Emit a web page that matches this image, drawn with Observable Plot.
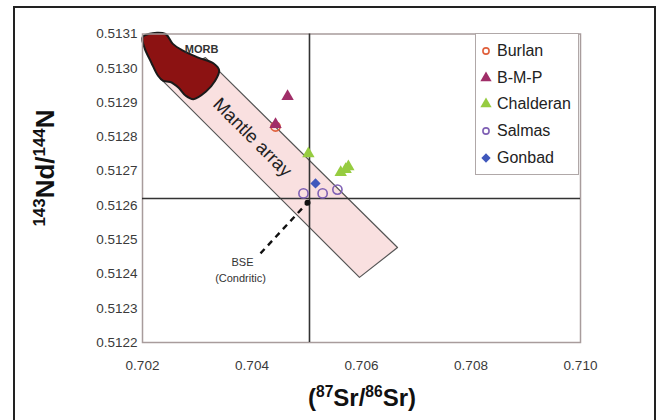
<!DOCTYPE html>
<html><head><meta charset="utf-8">
<script src="https://cdn.jsdelivr.net/npm/d3@7"></script>
<script src="https://cdn.jsdelivr.net/npm/@observablehq/plot@0.6"></script>
<style>
html,body{margin:0;padding:0;background:#fff;overflow:hidden;}
#wrap{position:relative;width:664px;height:420px;font-family:"Liberation Sans",Arial,sans-serif;overflow:hidden;}
#frame{position:absolute;left:13px;top:6px;width:643px;height:440px;border:2px solid #222;box-sizing:border-box;}
#chart{position:absolute;left:0;top:0;}
.title{position:absolute;font-weight:bold;font-size:24px;white-space:nowrap;color:#111;line-height:1;}
.title sup{font-size:0.65em;line-height:0;vertical-align:0.55em;}
#ytitle{left:45px;top:168px;font-size:26px;transform:translate(-50%,-50%) rotate(-90deg);}
#xtitle{left:362px;top:398px;transform:translate(-50%,-50%);}
#legend{position:absolute;left:475px;top:33px;width:104px;height:142px;border:1px solid #b0a8a8;background:#fff;box-sizing:border-box;}
.lrow{position:absolute;left:0;height:20px;display:flex;align-items:center;font-size:16px;color:#222;}
.lrow svg{margin-left:3px;margin-right:4px;}
</style>
</head><body>
<div id="wrap">
  <div id="chart"></div>
  <div id="frame"></div>
  <div class="title" id="ytitle"><sup>143</sup>Nd/<sup>144</sup>N</div>
  <div class="title" id="xtitle">(<sup>87</sup>Sr/<sup>86</sup>Sr)</div>
  <div id="legend"></div>
</div>
<script>
// ---- data ----
const seriesNames = ["Burlan", "B-M-P", "Chalderan", "Salmas", "Gonbad"];
const seriesColors = ["#e0603c", "#a02e68", "#96cc40", "#7f60b4", "#3f58bc"];
const seriesSymbols = ["circle", "triangle", "triangle", "circle", "diamond2"];
const seriesFilled = [false, true, true, false, true];

const pointSeries = ["Burlan", "B-M-P", "B-M-P", "Chalderan", "Chalderan", "Chalderan", "Chalderan", "Salmas", "Salmas", "Salmas", "Gonbad"];
const pointSr = [0.70443, 0.70465, 0.70443, 0.70503, 0.70562, 0.70571, 0.70576, 0.70494, 0.70529, 0.70556, 0.70516];
const pointNd = [0.51283, 0.512918, 0.512836, 0.512751, 0.512696, 0.512705, 0.512713, 0.512635, 0.512635, 0.512646, 0.512664];

const xTicks = [0.702, 0.704, 0.706, 0.708, 0.710];
const yTicks = [0.5122, 0.5123, 0.5124, 0.5125, 0.5126, 0.5127, 0.5128, 0.5129, 0.5130, 0.5131];

// Mantle array band outline (Sr, Nd)
const bandSr = [0.70315, 0.706658, 0.705963, 0.702329];
const bandNd = [0.513031, 0.512477, 0.51239, 0.51297];

// MORB field outline (Sr, Nd)
const morbSr = [0.70200, 0.70211, 0.70242, 0.70255, 0.70273, 0.70302, 0.70330, 0.70340, 0.70332, 0.70316, 0.70293, 0.70279, 0.70266, 0.70251, 0.70238, 0.70228, 0.70216, 0.70204];
const morbNd = [0.51309, 0.51310, 0.51310, 0.513072, 0.513052, 0.513031, 0.513014, 0.512994, 0.512962, 0.512932, 0.512910, 0.512920, 0.512943, 0.512960, 0.512963, 0.512979, 0.513017, 0.513058];

// reference lines (BSE)
const bseSr = 0.70505;
const bseNd = 0.51262;
// BSE arrow: start (label end) -> head
const arrowSr = [0.704155, 0.705014];
const arrowNd = [0.51246, 0.512608];

const labels = [
  {text: "MORB", x: 0.703078, y: 0.513055, size: 11, rotate: 0},
  {text: "Mantle array", x: 0.704009, y: 0.512798, size: 18.5, rotate: 45},
  {text: "BSE", x: 0.703826, y: 0.512433, size: 11, rotate: 0},
  {text: "(Condritic)", x: 0.70379, y: 0.512387, size: 11, rotate: 0}
];

// ---- build ----
const points = pointSeries.map((s, i) => ({s, x: pointSr[i], y: pointNd[i]}));
const band = bandSr.map((x, i) => ({x, y: bandNd[i]}));
const morb = morbSr.map((x, i) => ({x, y: morbNd[i]}));

const dotMarks = seriesNames.map((name, k) => {
  const data = points.filter(p => p.s === name);
  return seriesFilled[k]
    ? Plot.dot(data, {x: "x", y: "y", symbol: () => seriesSymbols[k], fill: seriesColors[k], stroke: "none", r: 4.6})
    : Plot.dot(data, {x: "x", y: "y", symbol: () => seriesSymbols[k], fill: "none", stroke: seriesColors[k], strokeWidth: 1.6, r: 4.6});
});

const chart = Plot.plot({
  width: 664,
  height: 420,
  marginLeft: 142,
  marginRight: 84,
  marginTop: 33.5,
  marginBottom: 78,
  style: {fontFamily: "'Liberation Sans', Arial, sans-serif", fontSize: "13.5px", color: "#3a3a3a", background: "transparent"},
  x: {domain: [0.702, 0.710]},
  y: {domain: [0.5122, 0.5131]},
  symbol: {type: "identity"},
  marks: [
    Plot.line(band, {x: "x", y: "y", curve: "linear-closed", fill: "#f9e0e0", stroke: "#555", strokeWidth: 1.2}),
    Plot.line(morb, {x: "x", y: "y", curve: "catmull-rom-closed", fill: "#8c1212", stroke: "#1a1a1a", strokeWidth: 2}),
    Plot.frame({stroke: "#a89c9c", strokeWidth: 1.5}),
    Plot.ruleX([bseSr], {stroke: "#333", strokeWidth: 1.6}),
    Plot.ruleY([bseNd], {stroke: "#333", strokeWidth: 1.6}),
    Plot.link([{x1: arrowSr[0], y1: arrowNd[0], x2: arrowSr[1], y2: arrowNd[1]}], {x1: "x1", y1: "y1", x2: "x2", y2: "y2", stroke: "#111", strokeWidth: 2.4, strokeDasharray: "6,5"}),
    Plot.dot([{x: arrowSr[1], y: arrowNd[1]}], {x: "x", y: "y", r: 3, fill: "#111"}),
    ...labels.map(l => Plot.text([l], {x: "x", y: "y", text: "text", fontSize: l.size, rotate: l.rotate, fill: l.rotate ? "#222" : "#333", fontWeight: l.text === "MORB" ? "bold" : "normal"})),
    ...dotMarks,
    Plot.axisX({ticks: xTicks, tickSize: 0, tickPadding: 18, tickFormat: d3.format(".3f"), label: null}),
    Plot.axisY({ticks: yTicks, tickSize: 0, tickPadding: 5, tickFormat: d3.format(".4f"), label: null})
  ]
});
document.getElementById("chart").appendChild(chart);

// legend
const legend = document.getElementById("legend");
const rowTops = [7, 34, 60, 87, 114];
seriesNames.forEach((name, k) => {
  const row = document.createElement("div");
  row.className = "lrow";
  row.style.top = (rowTops[k]) + "px";
  const sym = d3.symbol().type({circle: d3.symbolCircle, triangle: d3.symbolTriangle, diamond2: d3.symbolDiamond2}[seriesSymbols[k]]).size(seriesFilled[k] ? 55 : 30)();
  const fill = seriesFilled[k] ? seriesColors[k] : "none";
  const stroke = seriesFilled[k] ? "none" : seriesColors[k];
  row.innerHTML = `<svg width="14" height="14" viewBox="-7 -7 14 14"><path d="${sym}" fill="${fill}" stroke="${stroke}" stroke-width="1.6"/></svg><span>${name}</span>`;
  legend.appendChild(row);
});
</script>
</body></html>
